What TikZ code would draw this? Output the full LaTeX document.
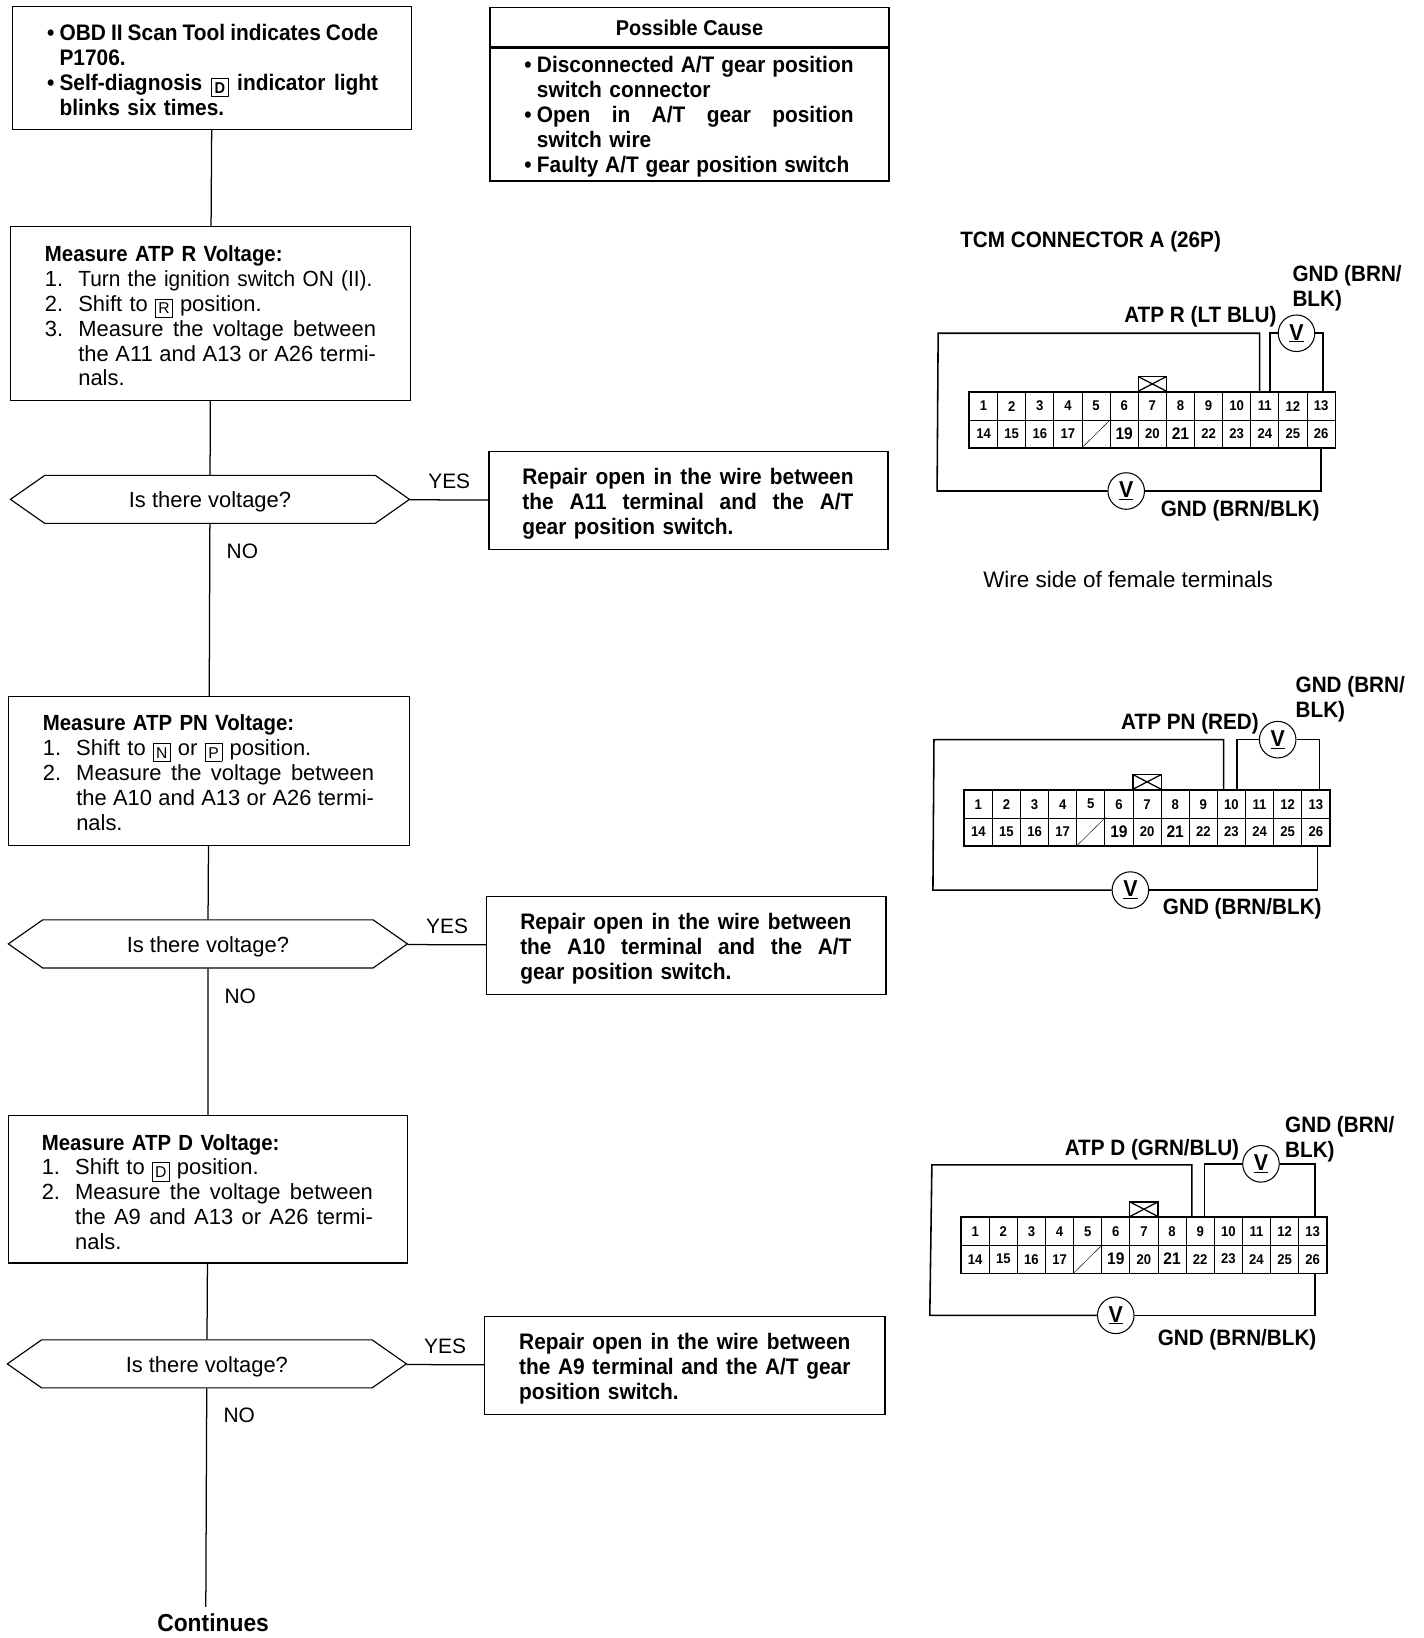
\documentclass[tikz,border=0pt]{standalone}
\usepackage{fontspec}
\setmainfont{Liberation Sans}[BoldFeatures={FakeStretch=0.93}]
\usetikzlibrary{shapes.symbols}
\tikzstyle{step-box}=[draw=black,fill=white,rectangle,line width=1.2pt,inner ysep=0pt,align=left,font=\fontsize{21}{23.8}\selectfont]
\tikzstyle{bold-box}=[step-box,font=\bfseries\fontsize{21.5}{23.8}\selectfont]
\tikzstyle{query-node}=[draw=black,fill=white,line width=1.1pt,signal,signal to=west and east,signal pointer angle=70,inner sep=0pt,minimum width=382,minimum height=46,font=\fontsize{21}{24}\selectfont]
\tikzstyle{label-node}=[inner sep=0pt,anchor=west,align=left,yshift=-2pt,font=\bfseries\fontsize{21.3}{23.5}\selectfont]
\tikzstyle{cell-node}=[draw=black,rectangle,line width=.9pt,inner sep=0pt,minimum width=26.92,minimum height=26.5,font=\bfseries\fontsize{13.5}{13.5}\selectfont]
\tikzstyle{plug-node}=[draw=black,rectangle,line width=1.2pt,inner sep=0pt,minimum width=27,minimum height=14,anchor=south,
	path picture={\draw (path picture bounding box.north west) -- (path picture bounding box.south east);
	\draw (path picture bounding box.south west) -- (path picture bounding box.north east);}]
\tikzstyle{meter-node}=[draw=black,fill=white,circle,line width=1pt,inner sep=0pt,minimum size=35,font=\bfseries\fontsize{22}{22}\selectfont]
\tikzstyle{flow-line}=[draw=black,line width=1.2pt]
\tikzstyle{wire-line}=[draw=black,line width=1.5pt]
\newcommand{\bul}{\makebox[12pt][l]{•}}
\newcommand{\hang}{\hspace*{12pt}}
\newcommand{\num}[1]{\makebox[32pt][l]{#1}}
\newcommand{\gearkey}[1]{{\setlength{\fboxsep}{1.5pt}\raisebox{-2.5pt}{\fbox{\fontsize{15}{15}\selectfont\makebox[13pt]{\rule[-1.5pt]{0pt}{14pt}#1}}}}}
\newcommand{\full}[2]{\leavevmode\hbox to #1{\spaceskip=.278em plus 1fil minus 1fil\relax #2}}
\newcommand{\tight}[1]{{\addfontfeature{FakeStretch=0.95}#1}}
\newcommand{\topline}[1]{\leavevmode\rule{0pt}{#1pt}}
\newcommand{\voltq}{\raisebox{-8pt}[0pt][0pt]{Is there voltage?}}
\newcommand{\bigdigit}{\fontsize{16}{16}\selectfont}
\newcommand{\tcmcells}[3]{%
	\begin{scope}[shift={(#2,#3)}]
	\foreach \n in {1,...,13}
		\node (#1-\n)[cell-node] at ({(\n-0.5)*26.92},13.25) {\n};
	\foreach \n [evaluate=\n as \k using int(\n+13)] in {1,...,13}
		\node (#1-\k)[cell-node] at ({(\n-0.5)*26.92},39.75) {\ifnum\k=19 \bigdigit\fi\ifnum\k=21 \bigdigit\fi\ifnum\k=18 \else\k\fi};
	\end{scope}
	\node (#1-plug)[plug-node] at (#1-7.north) {};
	\draw (#1-18.south west) -- (#1-18.north east);
	\draw [wire-line] (#1-1.north west) rectangle (#1-26.south east);
}
\begin{document}
\begin{tikzpicture}[x=1pt,y=-1pt]
	\useasboundingbox (0,0) rectangle (1363,1567.9);

	% left column
	\begin{scope}
	\node (start)[bold-box,inner xsep=33pt,text width=316pt,minimum height=118] at (203,65)
		{\topline{20}\bul\full{305pt}{OBD II Scan Tool indicates Code}\\ \hang P1706.\\ \bul\full{305pt}{Self-diagnosis \gearkey{D} indicator light}\\ \hang blinks six times.};
	\node (step-r)[step-box,inner xsep=33pt,text width=317pt,minimum height=166] at (201.5,300)
		{\topline{20}\textbf{Measure ATP R Voltage:}\\ \num{1.}\tight{Turn the ignition switch ON (II).}\\ \num{2.}Shift to \gearkey{R} position.\\
		\num{3.}\full{285pt}{Measure the voltage between}\\ \hspace*{32pt}\full{285pt}{the A11 and A13 or A26 termi-}\\ \hspace*{32pt}nals.};
	\node (query-r)[query-node] at (201,478) {\voltq};
	\node (step-pn)[step-box,inner xsep=33pt,text width=318pt,minimum height=142] at (200,738)
		{\topline{18}\textbf{Measure ATP PN Voltage:}\\ \num{1.}Shift to \gearkey{N} or \gearkey{P} position.\\
		\num{2.}\full{285pt}{Measure the voltage between}\\ \hspace*{32pt}\full{285pt}{the A10 and A13 or A26 termi-}\\ \hspace*{32pt}nals.};
	\node (query-pn)[query-node] at (199,903.5) {\voltq};
	\node (step-d)[step-box,inner xsep=32pt,text width=318pt,minimum height=141] at (199,1138.5)
		{\topline{20}\textbf{Measure ATP D Voltage:}\\ \num{1.}Shift to \gearkey{D} position.\\
		\num{2.}\full{285pt}{Measure the voltage between}\\ \hspace*{32pt}\full{285pt}{the A9 and A13 or A26 termi-}\\ \hspace*{32pt}nals.};
	\node (query-d)[query-node] at (198,1305.5) {\voltq};
	\coordinate (flow-end) at (197,1538);
	\node (continues)[inner sep=0pt,font=\bfseries\fontsize{23.5}{24}\selectfont] at (204,1553) {Continues};
	\end{scope}

	% middle column
	\begin{scope}
	\node (cause-head)[bold-box,font=\bfseries\fontsize{20.5}{24}\selectfont,align=center,minimum width=382,minimum height=38] at (660,26) {\raisebox{-8pt}[0pt][0pt]{Possible Cause}};
	\node (cause-body)[bold-box,inner xsep=33pt,text width=316pt,minimum height=127,anchor=north] at (cause-head.south)
		{\topline{20}\bul\full{303pt}{Disconnected A/T gear position}\\ \hang switch connector\\ \bul\full{303pt}{Open in A/T gear position}\\ \hang switch wire\\ \bul\full{299pt}{Faulty A/T gear position switch}};
	\node (repair-r)[bold-box,inner xsep=32pt,text width=318pt,minimum height=94] at (659,479)
		{\topline{22}\full{317pt}{Repair open in the wire between}\\ \full{317pt}{the A11 terminal and the A/T}\\ gear position switch.};
	\node (repair-pn)[bold-box,inner xsep=32pt,text width=318pt,minimum height=94] at (657,905)
		{\topline{22}\full{317pt}{Repair open in the wire between}\\ \full{317pt}{the A10 terminal and the A/T}\\ gear position switch.};
	\node (repair-d)[bold-box,inner xsep=33pt,text width=317pt,minimum height=94] at (655.5,1307)
		{\topline{22}\full{317pt}{Repair open in the wire between}\\ \full{317pt}{the A9 terminal and the A/T gear}\\ position switch.};
	\end{scope}

	% flow lines
	\begin{scope}[every edge/.style=flow-line]
	\path (start) edge (step-r);
	\path (step-r) edge (query-r);
	\path (query-r) edge (step-pn);
	\path (step-pn) edge (query-pn);
	\path (query-pn) edge (step-d);
	\path (step-d) edge (query-d);
	\path (query-d) edge (flow-end);
	\path (query-r) edge (repair-r);
	\path (query-pn) edge (repair-pn);
	\path (query-d) edge (repair-d);
	\end{scope}

	\begin{scope}[every node/.style={inner sep=0pt,font=\fontsize{20}{24}\selectfont}]
	\node (yes-r) at (430,461) {YES};
	\node (no-r) at (232,527.5) {NO};
	\node (yes-pn) at (428,887) {YES};
	\node (no-pn) at (230,953.5) {NO};
	\node (yes-d) at (426,1289) {YES};
	\node (no-d) at (229,1355) {NO};
	\end{scope}

	% connector views
	\tcmcells{ca}{928}{375.5}
	\tcmcells{cb}{923}{756.5}
	\tcmcells{cc}{920}{1165.5}

	\node (title-a)[label-node] at (919,229) {TCM CONNECTOR A (26P)};
	\node (note-a)[label-node,font=\fontsize{21.5}{24}\selectfont] at (941,553) {Wire side of female terminals};

	\node (ma-top)[meter-node] at (1241,319) {\underline{V}};
	\node (ma-bot)[meter-node] at (1078,470) {\underline{V}};
	\coordinate (ca-nw) at (898,319);
	\coordinate (ca-sw) at (897,470);
	\draw [wire-line] ([xshift=-5pt]ca-11.north) |- (ca-nw) -- (ca-sw) -- (ma-bot);
	\draw [wire-line] (ma-bot) -| (ca-26.south);
	\draw [wire-line] ([xshift=5pt]ca-11.north) |- (ma-top);
	\draw [wire-line] (ma-top) -| ([xshift=2pt]ca-13.north);
	\node (gnd-a1)[label-node] at (1237,274) {GND (BRN/\\BLK)};
	\node (atp-a)[label-node] at (1076,301) {ATP R (LT BLU)};
	\node (gnd-a2)[label-node] at (1111,487) {GND (BRN/BLK)};

	\node (mb-top)[meter-node] at (1223,708) {\underline{V}};
	\node (mb-bot)[meter-node] at (1082,852) {\underline{V}};
	\coordinate (cb-nw) at (894,708);
	\coordinate (cb-sw) at (893,852);
	\draw [wire-line] ([xshift=-7.5pt]cb-10.north) |- (cb-nw) -- (cb-sw) -- (mb-bot);
	\draw [wire-line] (mb-bot) -| ([xshift=1.5pt]cb-26.south);
	\draw [wire-line] ([xshift=5.5pt]cb-10.north) |- (mb-top);
	\draw [wire-line] (mb-top) -| ([xshift=3.5pt]cb-13.north);
	\node (gnd-b1)[label-node] at (1240,667.5) {GND (BRN/\\BLK)};
	\node (atp-b)[label-node] at (1073,691) {ATP PN (RED)};
	\node (gnd-b2)[label-node] at (1113,868) {GND (BRN/BLK)};

	\node (mc-top)[meter-node] at (1207,1114) {\underline{V}};
	\node (mc-bot)[meter-node] at (1068,1259) {\underline{V}};
	\coordinate (cc-nw) at (892,1115);
	\coordinate (cc-sw) at (890,1259);
	\draw [wire-line] ([xshift=-8pt]cc-9.north) |- (cc-nw) -- (cc-sw) -- (mc-bot);
	\draw [wire-line] (mc-bot) -| ([xshift=2pt]cc-26.south);
	\draw [wire-line] ([xshift=4pt]cc-9.north) |- (mc-top);
	\draw [wire-line] (mc-top) -| ([xshift=2pt]cc-13.north);
	\node (gnd-c1)[label-node] at (1230,1088.5) {GND (BRN/\\BLK)};
	\node (atp-c)[label-node] at (1019,1099) {ATP D (GRN/BLU)};
	\node (gnd-c2)[label-node] at (1108,1280) {GND (BRN/BLK)};
\end{tikzpicture}
\end{document}
